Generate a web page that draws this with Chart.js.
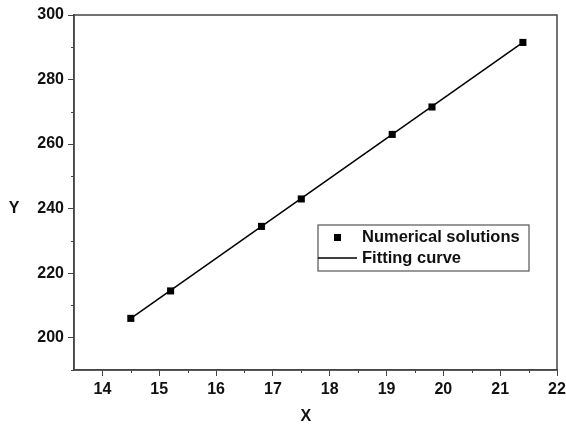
<!DOCTYPE html>
<html>
<head>
<meta charset="utf-8">
<script src="https://cdn.jsdelivr.net/npm/chart.js@4"></script>
<style>
  html, body { margin: 0; padding: 0; background: #fff; }
  #wrap { width: 566px; height: 426px; position: relative; }
</style>
</head>
<body>
<div id="wrap"><canvas id="grafica"></canvas></div>
<script>
// datos
const xNum = [14.5, 15.2, 16.8, 17.5, 19.1, 19.8, 21.4];
const yNum = [206, 214.5, 234.5, 243, 263, 271.5, 291.5];
// recta de ajuste (extremos)
const xFit = [14.5, 21.4];
const yFit = [206, 291.5];

const xTicks = [14, 15, 16, 17, 18, 19, 20, 21, 22];
const yTicks = [200, 220, 240, 260, 280, 300];
const etiquetas = ["Numerical solutions", "Fitting curve"];
const fuente = "'Liberation Sans', Arial, sans-serif";

// marco, ticks menores, titulos de ejes y leyenda
const extras = {
  id: "extras",
  afterDraw(chart) {
    const { ctx, chartArea: a, scales } = chart;
    ctx.save();
    ctx.strokeStyle = "#444";
    ctx.lineWidth = 1.5;
    ctx.strokeRect(a.left, a.top, a.right - a.left, a.bottom - a.top);

    // ticks menores
    ctx.lineWidth = 1;
    ctx.beginPath();
    for (let v = 14.5; v < 22; v += 1) {
      const px = Math.round(scales.x.getPixelForValue(v)) + 0.5;
      ctx.moveTo(px, a.bottom);
      ctx.lineTo(px, a.bottom + 3);
    }
    for (let v = 190; v < 300; v += 20) {
      const py = Math.round(scales.y.getPixelForValue(v)) + 0.5;
      ctx.moveTo(a.left, py);
      ctx.lineTo(a.left - 3, py);
    }
    ctx.stroke();

    // titulos de ejes
    ctx.font = "bold 16px " + fuente;
    ctx.fillStyle = "#111";
    ctx.textAlign = "center";
    ctx.textBaseline = "middle";
    ctx.fillText("Y", 14, scales.y.getPixelForValue(240));
    ctx.fillText("X", scales.x.getPixelForValue(17.58), a.bottom + 47);

    // leyenda
    const lx = a.left + 244;
    const ly = a.top + 210;
    const w = 211, h = 46;
    ctx.strokeStyle = "#555";
    ctx.lineWidth = 1.2;
    ctx.strokeRect(lx, ly, w, h);
    ctx.fillStyle = "#000";
    ctx.fillRect(lx + 16, ly + 9, 7, 7);
    ctx.strokeStyle = "#000";
    ctx.lineWidth = 1.5;
    ctx.beginPath();
    ctx.moveTo(lx, ly + 33);
    ctx.lineTo(lx + 39, ly + 33);
    ctx.stroke();
    ctx.font = "bold 16.5px " + fuente;
    ctx.textAlign = "left";
    ctx.fillStyle = "#111";
    ctx.fillText(etiquetas[0], lx + 44, ly + 12);
    ctx.fillText(etiquetas[1], lx + 44, ly + 33);
    ctx.restore();
  }
};

new Chart(document.getElementById("grafica"), {
  type: "scatter",
  data: {
    datasets: [
      {
        label: etiquetas[1],
        data: xFit.map((x, i) => ({ x, y: yFit[i] })),
        showLine: true,
        borderColor: "#000",
        borderWidth: 1.5,
        pointRadius: 0,
        fill: false,
      },
      {
        label: etiquetas[0],
        data: xNum.map((x, i) => ({ x, y: yNum[i] })),
        pointStyle: "rect",
        pointRadius: 5,
        backgroundColor: "#000",
        borderColor: "#000",
        borderWidth: 0,
      },
    ],
  },
  plugins: [extras],
  options: {
    responsive: true,
    maintainAspectRatio: false,
    animation: false,
    layout: { padding: { top: 15, right: 9, left: 0, bottom: 0 } },
    plugins: {
      legend: { display: false },
      tooltip: { enabled: false },
    },
    scales: {
      x: {
        type: "linear",
        min: 13.5,
        max: 22,
        afterFit: (s) => {
          s.height = 56;
          s.paddingRight = 0;
          s.paddingLeft = 0;
        },
        afterBuildTicks: (s) => {
          s.ticks = xTicks.map((v) => ({ value: v }));
        },
        ticks: {
          autoSkip: false,
          maxRotation: 0,
          color: "#111",
          padding: 4,
          font: { family: fuente, size: 16, weight: "bold" },
        },
        grid: { display: true, drawOnChartArea: false, tickLength: 6, color: "#444", tickWidth: 1 },
        border: { display: true, color: "#444", width: 1.5 },
      },
      y: {
        type: "linear",
        min: 190,
        max: 300,
        afterFit: (s) => { s.width = 74; },
        afterBuildTicks: (s) => {
          s.ticks = yTicks.map((v) => ({ value: v }));
        },
        ticks: {
          autoSkip: false,
          color: "#111",
          padding: 4,
          font: { family: fuente, size: 16, weight: "bold" },
        },
        grid: { display: true, drawOnChartArea: false, tickLength: 6, color: "#444", tickWidth: 1 },
        border: { display: true, color: "#444", width: 1.5 },
      },
    },
  },
});
</script>
</body>
</html>
